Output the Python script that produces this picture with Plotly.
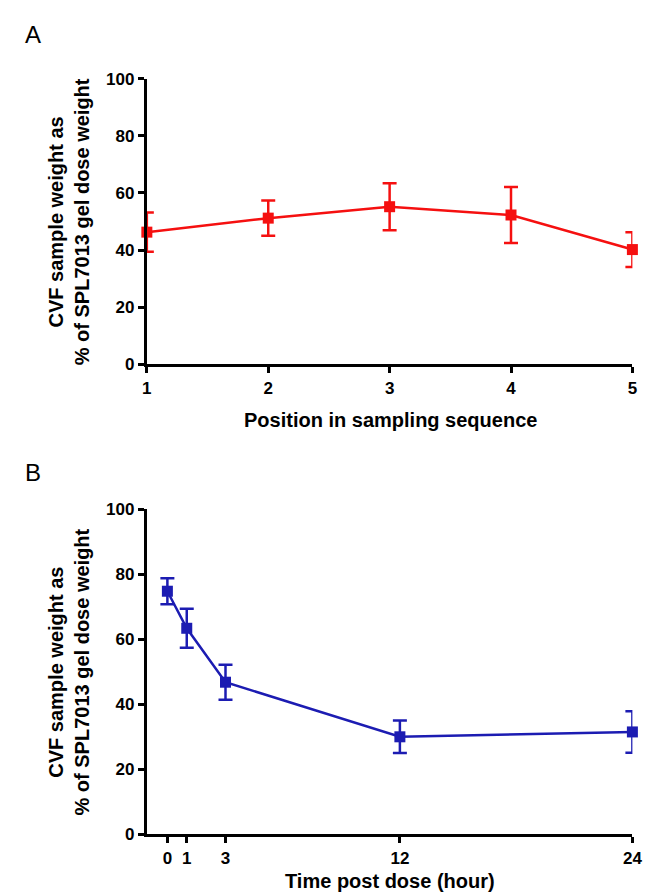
import plotly.graph_objects as go

# Panel A data
pos_x = [1, 2, 3, 4, 5]
pos_y = [46.3, 51.2, 55.2, 52.3, 40.2]
pos_err = [6.9, 6.2, 8.2, 9.8, 6.1]

# Panel B data
time_x = [0, 1, 3, 12, 24]
time_y = [74.8, 63.4, 46.8, 30.0, 31.5]
time_err = [4.0, 6.0, 5.4, 5.0, 6.4]

yticks = [0, 20, 40, 60, 80, 100]
ytitle = "CVF sample weight as<br>% of SPL7013 gel dose weight"

W, H = 651, 896
FONT = "Liberation Sans, Arial, Helvetica, sans-serif"
RED = "#F51010"
BLUE = "#1C1CB2"

fig = go.Figure()

fig.add_trace(go.Scatter(
    x=pos_x, y=pos_y, mode="lines+markers",
    line=dict(color=RED, width=2.5),
    marker=dict(symbol="square", size=11, color=RED),
    error_y=dict(type="data", array=pos_err, visible=True, color=RED, thickness=2.5, width=7),
    cliponaxis=False, xaxis="x", yaxis="y", showlegend=False,
))
fig.add_trace(go.Scatter(
    x=time_x, y=time_y, mode="lines+markers",
    line=dict(color=BLUE, width=2.5),
    marker=dict(symbol="square", size=11, color=BLUE),
    error_y=dict(type="data", array=time_err, visible=True, color=BLUE, thickness=2.5, width=7),
    cliponaxis=False, xaxis="x2", yaxis="y2", showlegend=False,
))

xdom = [137 / W, 634 / W]
ydomA = [1 - 355 / H, 1 - 63 / H]
ydomB = [1 - 835 / H, 1 - 503 / H]

axis_common = dict(
    showline=True, linecolor="black", linewidth=3, ticks="outside",
    ticklen=6, tickwidth=3, tickcolor="black", showgrid=False, zeroline=False,
    tickfont=dict(family=FONT, size=17, color="black", weight="bold"),
    mirror=False,
)

fig.update_layout(
    width=W, height=H,
    margin=dict(l=0, r=0, t=0, b=0),
    paper_bgcolor="white", plot_bgcolor="white",
    xaxis=dict(domain=xdom, anchor="y", range=[1, 5], tickvals=pos_x, **axis_common),
    yaxis=dict(domain=ydomA, anchor="x", range=[0, 100], tickvals=yticks, **axis_common),
    xaxis2=dict(domain=xdom, anchor="y2", range=[-1.06, 24], tickvals=time_x, **axis_common),
    yaxis2=dict(domain=ydomB, anchor="x2", range=[0, 100], tickvals=yticks, **axis_common),
)

tfont = dict(family=FONT, size=20, color="black", weight="bold")
ann = [
    dict(text="A", x=10 / W, y=1 - 18 / H, xref="paper", yref="paper", xanchor="left", yanchor="middle",
         showarrow=False, font=dict(family=FONT, size=24, color="black")),
    dict(text="B", x=10 / W, y=1 - 465 / H, xref="paper", yref="paper", xanchor="left", yanchor="middle",
         showarrow=False, font=dict(family=FONT, size=24, color="black")),
    dict(text=ytitle, x=57 / W, y=(ydomA[0] + ydomA[1]) / 2, xref="paper", yref="paper",
         xanchor="center", yanchor="middle", textangle=-90, showarrow=False, font=tfont),
    dict(text=ytitle, x=57 / W, y=(ydomB[0] + ydomB[1]) / 2, xref="paper", yref="paper",
         xanchor="center", yanchor="middle", textangle=-90, showarrow=False, font=tfont),
    dict(text="Position in sampling sequence", x=386 / W, y=1 - 412 / H, xref="paper", yref="paper",
         xanchor="center", yanchor="middle", showarrow=False, font=tfont),
    dict(text="Time post dose (hour)", x=386 / W, y=1 - 883 / H, xref="paper", yref="paper",
         xanchor="center", yanchor="middle", showarrow=False, font=tfont),
]
fig.update_layout(annotations=ann)

fig.write_html("out.html")
